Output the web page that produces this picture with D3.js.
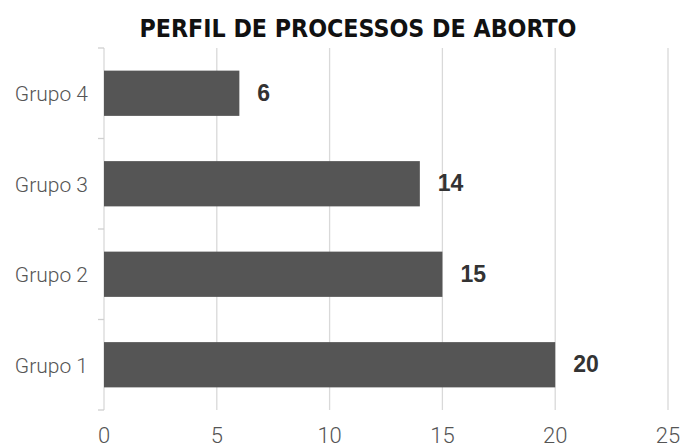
<!DOCTYPE html>
<html><head><meta charset="utf-8">
<script src="https://cdn.jsdelivr.net/npm/d3@7"></script>
<style>body{margin:0;background:#fff}</style>
</head><body>
<svg id="c" width="682" height="445"></svg>
<script>
const categories = ["Grupo 4", "Grupo 3", "Grupo 2", "Grupo 1"];
const values = [6, 14, 15, 20];
const xTicks = [0, 5, 10, 15, 20, 25];
const title = "PERFIL DE PROCESSOS DE ABORTO";

(function () {
const svg = d3.select("#c");
const mLeft = 104, mRight = 668, mTop = 48, mBottom = 410;
const x = d3.scaleLinear().domain([0, 25]).range([mLeft, mRight]);
const y = d3.scaleBand().domain(categories).range([mTop, mBottom]).paddingInner(0.5).paddingOuter(0.25);

svg.append("text").attr("x", 358).attr("y", 37).attr("text-anchor", "middle")
  .style("font-family", "'Liberation Sans Narrow','DejaVu Sans Condensed','DejaVu Sans',sans-serif")
  .style("font-weight", "bold").style("font-size", "25px").attr("fill", "#111")
  .attr("textLength", 437).attr("lengthAdjust", "spacingAndGlyphs")
  .text(title);

svg.append("g").selectAll("line").data(xTicks).join("line")
  .attr("x1", d => x(d)).attr("x2", d => x(d)).attr("y1", mTop).attr("y2", mBottom)
  .attr("stroke", "#d9d9d9").attr("stroke-width", 1.3);

const bounds = d3.range(categories.length + 1).map(i => mTop + i * (mBottom - mTop) / categories.length);
svg.append("g").selectAll("line").data(bounds).join("line")
  .attr("x1", mLeft - 6).attr("x2", mLeft).attr("y1", d => d).attr("y2", d => d)
  .attr("stroke", "#d0d0d0").attr("stroke-width", 1.3);

svg.append("g").selectAll("rect").data(values).join("rect")
  .attr("x", x(0)).attr("y", (d, i) => y(categories[i]))
  .attr("width", d => x(d) - x(0)).attr("height", y.bandwidth())
  .attr("fill", "#555555");

svg.append("g").selectAll("text").data(values).join("text")
  .attr("x", d => x(d) + 18).attr("y", (d, i) => y(categories[i]) + y.bandwidth() / 2 + 7.5)
  .style("font-family", "'Liberation Sans',Arial,sans-serif").style("font-weight", "bold")
  .style("font-size", "23px").attr("fill", "#333").text(d => d);

svg.append("g").selectAll("text").data(categories).join("text")
  .attr("x", 88).attr("y", d => y(d) + y.bandwidth() / 2 + 8)
  .attr("text-anchor", "end")
  .style("font-family", "Roboto,sans-serif").style("font-weight", "300")
  .style("font-size", "21px").attr("fill", "#555").text(d => d);

svg.append("g").selectAll("text").data(xTicks).join("text")
  .attr("x", d => x(d)).attr("y", 443).attr("text-anchor", "middle")
  .style("font-family", "Roboto,sans-serif").style("font-weight", "300")
  .style("font-size", "22px").attr("fill", "#555").text(d => d);
})();
</script>
</body></html>
